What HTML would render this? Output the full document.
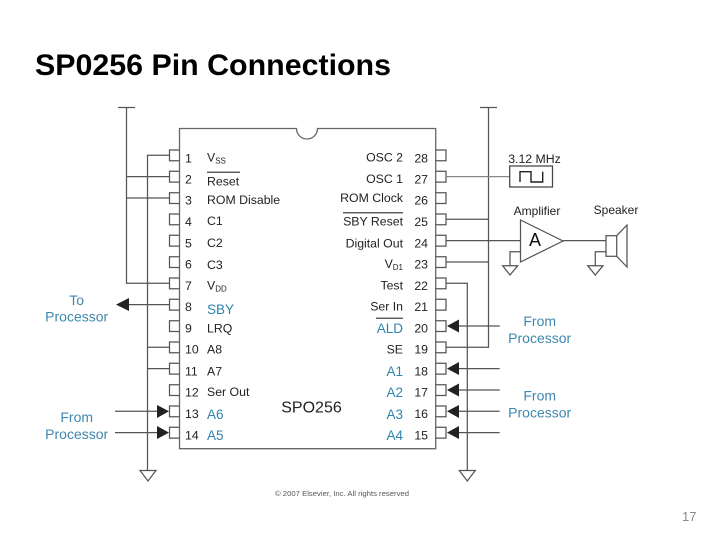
<!DOCTYPE html>
<html><head><meta charset="utf-8"><style>
html,body{margin:0;padding:0;background:#fff;width:720px;height:540px;overflow:hidden}
svg{display:block}
text{font-family:"Liberation Sans",sans-serif}
.n,.l{font-size:12.3px;fill:#222}
.b{font-size:13.5px;fill:#2f83ad}
.p{font-size:14px;fill:#3f87ac;text-anchor:middle}
.e{text-anchor:end}
.s{font-size:8px}
</style></head><body>
<svg width="720" height="540" viewBox="0 0 720 540" xmlns="http://www.w3.org/2000/svg">
<text x="35" y="75" font-size="30" font-weight="bold" fill="#000" textLength="356" lengthAdjust="spacingAndGlyphs">SP0256 Pin Connections</text>
<g style="filter:blur(.25px)">
<g fill="none" stroke="#555" stroke-width="1.25">
<path d="M179.5 128.5H296.5A10.5 10.5 0 0 0 317.5 128.5H435.7V448.7H179.5Z" fill="#fff" stroke="#666" stroke-width="1.3"/>
<!-- left pins -->
<path d="M179.5 150H169.5V160.8H179.5M179.5 171.3H169.5V182.1H179.5M179.5 192.7H169.5V203.5H179.5M179.5 214H169.5V224.8H179.5M179.5 235.3H169.5V246.1H179.5M179.5 256.7H169.5V267.5H179.5M179.5 278H169.5V288.8H179.5M179.5 299.3H169.5V310.1H179.5M179.5 320.7H169.5V331.5H179.5M179.5 342H169.5V352.8H179.5M179.5 363.3H169.5V374.1H179.5M179.5 384.7H169.5V395.5H179.5M179.5 406H169.5V416.8H179.5M179.5 427.3H169.5V438.1H179.5"/>
<!-- right pins -->
<path d="M435.7 150H446V160.8H435.7M435.7 171.3H446V182.1H435.7M435.7 192.7H446V203.5H435.7M435.7 214H446V224.8H435.7M435.7 235.3H446V246.1H435.7M435.7 256.7H446V267.5H435.7M435.7 278H446V288.8H435.7M435.7 299.3H446V310.1H435.7M435.7 320.7H446V331.5H435.7M435.7 342H446V352.8H435.7M435.7 363.3H446V374.1H435.7M435.7 384.7H446V395.5H435.7M435.7 406H446V416.8H435.7M435.7 427.3H446V438.1H435.7"/>
<!-- buses -->
<path d="M118 107.5H135M126.5 107.5V283.3H169.5M126.5 176.6H169.5M126.5 198H169.5"/>
<path d="M147.5 470V155.3H169.5M147.5 347.3H169.5M147.5 368.6H169.5"/>
<path d="M140 470.5H156L148 481Z"/>
<path d="M480 107.5H497M488.5 107.5V347.3H446M446 219.3H488.5M446 262H488.5"/>
<path d="M446 176.6H509.7" stroke="#888"/>
<path d="M446 283.3H467.3V470"/>
<path d="M459.3 470.5H475.3L467.3 481Z"/>
<!-- oscillator -->
<rect x="509.7" y="166" width="42.8" height="21" stroke="#444"/>
<path d="M520 182V171.7H531V182H542.7V171.7" stroke="#222" stroke-width="1.4"/>
<!-- amp -->
<path d="M446 240.6H520.5"/>
<path d="M520.5 220L563 241L520.5 262Z" fill="#fff"/>
<path d="M520.5 251.7H510V265.7"/>
<path d="M502.7 265.7H517.7L510 275Z"/>
<path d="M563 240.6H606"/>
<!-- speaker -->
<rect x="606" y="235.7" width="10.7" height="20.6"/>
<path d="M616.7 235.7L627 225V267L616.7 256.3"/>
<path d="M606 251.7H595.3V265.7"/>
<path d="M587.7 265.7H603L595.3 275Z"/>
<!-- arrows -->
<path d="M169.5 304.6H125M115 411.3H160M115 432.6H160"/>
<path d="M455 326H499.7M455 368.6H499.7M455 390H499.7M455 411.3H499.7M455 432.6H499.7"/>
<path d="M207 172.3H240M343 212.7H403M376 318.3H403" stroke="#444"/>
</g>
<g fill="#222">
<path d="M116 304.6L129 298V311Z"/>
<path d="M169 411.3L157 405V418Z"/>
<path d="M169 432.6L157 426V439Z"/>
<path d="M447 326L459 319.5V332.5Z"/>
<path d="M447 368.6L459 362V375Z"/>
<path d="M447 390L459 383.5V396.5Z"/>
<path d="M447 411.3L459 405V418Z"/>
<path d="M447 432.6L459 426V439Z"/>
</g>
<!-- left numbers -->
<g class="n">
<text class="n" x="185" y="162.5">1</text><text class="n" x="185" y="183.5">2</text><text class="n" x="185" y="204.5">3</text><text class="n" x="185" y="226">4</text><text class="n" x="185" y="247.5">5</text><text class="n" x="185" y="268.5">6</text><text class="n" x="185" y="290">7</text><text class="n" x="185" y="311">8</text><text class="n" x="185" y="332.5">9</text><text class="n" x="185" y="353.5">10</text><text class="n" x="185" y="375.5">11</text><text class="n" x="185" y="396.5">12</text><text class="n" x="185" y="418">13</text><text class="n" x="185" y="439.5">14</text>
</g>
<!-- left labels -->
<text class="l" x="207" y="161.5">V<tspan class="s" dy="2">SS</tspan></text>
<text class="l" x="207" y="185.5">Reset</text>
<text class="l" x="207" y="204">ROM Disable</text>
<text class="l" x="207" y="225">C1</text>
<text class="l" x="207" y="247">C2</text>
<text class="l" x="207" y="269">C3</text>
<text class="l" x="207" y="289.5">V<tspan class="s" dy="2">DD</tspan></text>
<text class="b" x="207" y="314">SBY</text>
<text class="l" x="207" y="332.5">LRQ</text>
<text class="l" x="207" y="353.5">A8</text>
<text class="l" x="207" y="375.5">A7</text>
<text class="l" x="207" y="396">Ser Out</text>
<text class="b" x="207" y="419">A6</text>
<text class="b" x="207" y="440">A5</text>
<!-- right numbers -->
<text class="n e" x="428" y="162.5">28</text><text class="n e" x="428" y="183.5">27</text><text class="n e" x="428" y="204.5">26</text><text class="n e" x="428" y="226">25</text><text class="n e" x="428" y="247.5">24</text><text class="n e" x="428" y="268.5">23</text><text class="n e" x="428" y="290">22</text><text class="n e" x="428" y="311">21</text><text class="n e" x="428" y="332.5">20</text><text class="n e" x="428" y="353.5">19</text><text class="n e" x="428" y="375.5">18</text><text class="n e" x="428" y="396.5">17</text><text class="n e" x="428" y="418">16</text><text class="n e" x="428" y="439.5">15</text>
<!-- right labels -->
<text class="l e" x="403" y="161.5">OSC 2</text>
<text class="l e" x="403" y="183">OSC 1</text>
<text class="l e" x="403" y="202">ROM Clock</text>
<text class="l e" x="403" y="225.5">SBY Reset</text>
<text class="l e" x="403" y="247.5">Digital Out</text>
<text class="l e" x="403" y="268">V<tspan class="s" dy="2">D1</tspan></text>
<text class="l e" x="403" y="289.5">Test</text>
<text class="l e" x="403" y="310.5">Ser In</text>
<text class="b e" x="403" y="333">ALD</text>
<text class="l e" x="403" y="353.5">SE</text>
<text class="b e" x="403" y="376">A1</text>
<text class="b e" x="403" y="397">A2</text>
<text class="b e" x="403" y="419">A3</text>
<text class="b e" x="403" y="440">A4</text>
<text x="311.5" y="412.7" font-size="16" fill="#222" text-anchor="middle">SPO256</text>
<text x="534.5" y="163" font-size="12.3" fill="#222" text-anchor="middle">3.12 MHz</text>
<text x="537" y="215" font-size="12" fill="#222" text-anchor="middle">Amplifier</text>
<text x="616" y="214" font-size="12" fill="#222" text-anchor="middle">Speaker</text>
<text x="535" y="246" font-size="18" fill="#111" text-anchor="middle">A</text>
<text class="p" x="76.7" y="305">To</text>
<text class="p" x="76.7" y="321.7">Processor</text>
<text class="p" x="76.7" y="422">From</text>
<text class="p" x="76.7" y="439">Processor</text>
<text class="p" x="539.7" y="326">From</text>
<text class="p" x="539.7" y="343">Processor</text>
<text class="p" x="539.7" y="400.7">From</text>
<text class="p" x="539.7" y="417.7">Processor</text>
<text x="275" y="496" font-size="7.5" fill="#555" textLength="134" lengthAdjust="spacingAndGlyphs">© 2007 Elsevier, Inc. All rights reserved</text>
</g>
<text x="682" y="521" font-size="13" fill="#8a8a8a">17</text>
</svg>
</body></html>
